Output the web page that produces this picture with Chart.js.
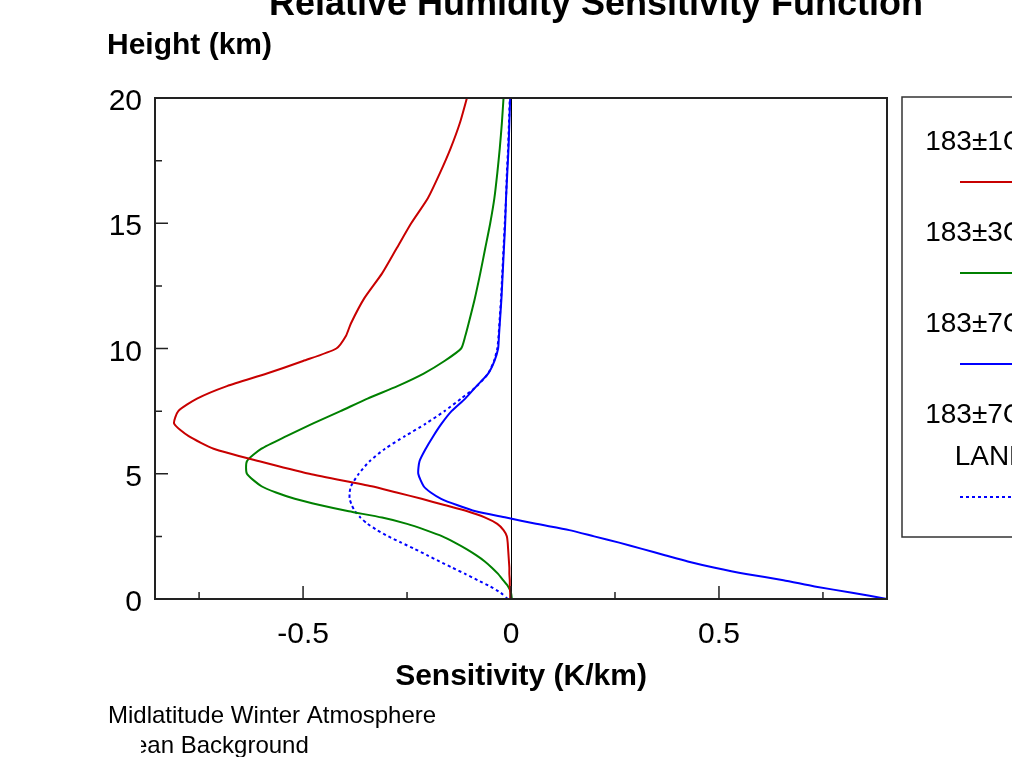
<!DOCTYPE html>
<html>
<head>
<meta charset="utf-8">
<script src="https://cdn.jsdelivr.net/npm/chart.js@4/dist/chart.umd.min.js"></script>
<style>
  body { margin: 0; background: #fff; }
  canvas { display: block; }
</style>
</head>
<body>
<canvas id="rhChart" width="1012" height="757"></canvas>
<script>
//height levels (km) shared by every profile
const heights = [0, 0.25, 0.5, 0.75, 1, 1.25, 1.5, 1.75, 2, 2.25, 2.5, 2.75, 3, 3.25, 3.5, 3.75, 4, 4.25, 4.5,
    5, 5.5, 6, 6.5, 7, 7.5, 8, 8.5, 9, 9.5, 10, 10.5, 11, 12, 13, 14, 15, 16, 17, 18, 19, 20];

//sensitivity (K/km) at each height
const sens1 = [-0.002, -0.002, -0.003, -0.003, -0.004, -0.004, -0.005, -0.006, -0.007, -0.008, -0.010, -0.018, -0.033, -0.062, -0.105, -0.16, -0.215, -0.275, -0.335,
    -0.485, -0.605, -0.715, -0.775, -0.81, -0.80, -0.755, -0.683, -0.587, -0.50, -0.42, -0.397, -0.385, -0.353, -0.31, -0.275, -0.24, -0.20, -0.171, -0.145, -0.123, -0.106];
const sens3 = [0.002, 0.0, -0.007, -0.019, -0.031, -0.046, -0.063, -0.084, -0.108, -0.135, -0.165, -0.205, -0.25, -0.31, -0.39, -0.46, -0.52, -0.565, -0.60,
    -0.635, -0.635, -0.60, -0.54, -0.477, -0.41, -0.345, -0.273, -0.21, -0.16, -0.12, -0.11, -0.102, -0.087, -0.074, -0.062, -0.05, -0.04, -0.033, -0.027, -0.022, -0.018];
const sens7 = [0.904, 0.82, 0.73, 0.655, 0.565, 0.49, 0.425, 0.37, 0.315, 0.26, 0.20, 0.14, 0.06, -0.012, -0.085, -0.13, -0.168, -0.193, -0.21,
    -0.223, -0.22, -0.205, -0.187, -0.167, -0.143, -0.11, -0.083, -0.055, -0.04, -0.031, -0.029, -0.027, -0.023, -0.02, -0.017, -0.014, -0.012, -0.009, -0.006, -0.004, -0.002];
const sens7land = [-0.008, -0.025, -0.05, -0.08, -0.11, -0.141, -0.172, -0.202, -0.232, -0.264, -0.295, -0.322, -0.345, -0.362, -0.375, -0.383, -0.388, -0.388, -0.385,
    -0.366, -0.34, -0.303, -0.255, -0.205, -0.16, -0.12, -0.082, -0.055, -0.041, -0.033, -0.03, -0.028, -0.024, -0.021, -0.018, -0.015, -0.012, -0.01, -0.007, -0.005, -0.003];

const seriesLabels = ['183±1GHz', '183±3GHz', '183±7GHz', '183±7GHz\nLAND'];
const seriesColors = ['#c80000', '#008000', '#0000ff', '#0000ff'];

//axis ticks
const xMajorTicks = [-0.5, 0, 0.5];
const xMinorTicks = [-0.75, -0.25, 0.25, 0.75];
const yMajorTicks = [0, 5, 10, 15, 20];
const yMinorTicks = [2.5, 7.5, 12.5, 17.5];
const xMin = -0.856, xMax = 0.904;

const toPoints = vals => heights.map((h, i) => ({x: vals[i], y: h}));

const FONT = '"Liberation Sans", Arial, sans-serif';

//draws frame, ticks, labels, titles and the boxed legend around the chart area
const framePlugin = {
    id: 'frame',
    beforeDatasetsDraw(chart) {
        const c = chart.ctx, a = chart.chartArea, xs = chart.scales.x;
        c.save();
        c.strokeStyle = '#000';
        c.lineWidth = 1;
        const x0 = Math.round(xs.getPixelForValue(0)) + 0.5;
        c.beginPath(); c.moveTo(x0, a.top); c.lineTo(x0, a.bottom); c.stroke(); //zero line
        c.restore();
    },
    afterDraw(chart) {
        const c = chart.ctx, a = chart.chartArea, xs = chart.scales.x, ys = chart.scales.y;
        c.save();
        //plot frame
        c.strokeStyle = '#222';
        c.lineWidth = 2;
        c.strokeRect(a.left, a.top, a.right - a.left, a.bottom - a.top);

        //inward ticks
        c.lineWidth = 1.5;
        c.beginPath();
        xMajorTicks.forEach(v => { const p = xs.getPixelForValue(v); c.moveTo(p, a.bottom); c.lineTo(p, a.bottom - 13); });
        xMinorTicks.forEach(v => { const p = xs.getPixelForValue(v); c.moveTo(p, a.bottom); c.lineTo(p, a.bottom - 7); });
        yMajorTicks.forEach(v => { const p = ys.getPixelForValue(v); c.moveTo(a.left, p); c.lineTo(a.left + 13, p); });
        yMinorTicks.forEach(v => { const p = ys.getPixelForValue(v); c.moveTo(a.left, p); c.lineTo(a.left + 7, p); });
        c.stroke();

        //tick labels
        c.fillStyle = '#000';
        c.font = '30px ' + FONT;
        c.textBaseline = 'alphabetic';
        c.textAlign = 'center';
        xMajorTicks.forEach(v => c.fillText(String(v), xs.getPixelForValue(v), a.bottom + 44));
        c.textAlign = 'right';
        yMajorTicks.forEach(v => c.fillText(String(v), a.left - 13, ys.getPixelForValue(v) + 12));

        //titles
        c.textAlign = 'center';
        c.font = 'bold 36px ' + FONT;
        c.fillText('Relative Humidity Sensitivity Function', 596, 15);
        c.font = 'bold 30px ' + FONT;
        c.fillText('Sensitivity (K/km)', (a.left + a.right) / 2, 685);
        c.textAlign = 'left';
        c.fillText('Height (km)', 107, 54);

        //notes under the chart
        c.font = '24px ' + FONT;
        c.fillText('Midlatitude Winter Atmosphere', 108, 723);
        c.save();
        c.beginPath(); c.rect(141, 726, 300, 31); c.clip();
        c.fillText('ean Background', 134, 753);
        c.restore();

        //legend box
        c.strokeStyle = '#333';
        c.lineWidth = 1.5;
        c.strokeRect(902, 97, 300, 440);
        c.font = '28px ' + FONT;
        c.textAlign = 'center';
        const cx = 992;
        let y = 150;
        chart.data.datasets.forEach(ds => {
            ds.label.split('\n').forEach((line, i) => {
                if (i > 0) y += 42;
                c.fillStyle = '#000';
                c.fillText(line, cx, y);
            });
            const ly = y + 32;
            c.strokeStyle = ds.borderColor;
            c.lineWidth = 2;
            c.setLineDash(ds.borderDash || []);
            c.beginPath(); c.moveTo(960, ly); c.lineTo(1024, ly); c.stroke();
            c.setLineDash([]);
            y = ly + 59;
        });
        c.restore();
    }
};

const rhChart = new Chart(document.getElementById('rhChart'), {
    type: 'scatter',
    data: {
        datasets: [
            {label: seriesLabels[0], data: toPoints(sens1), borderColor: seriesColors[0]},
            {label: seriesLabels[1], data: toPoints(sens3), borderColor: seriesColors[1]},
            {label: seriesLabels[2], data: toPoints(sens7), borderColor: seriesColors[2]},
            {label: seriesLabels[3], data: toPoints(sens7land), borderColor: seriesColors[3], borderDash: [3, 3]}
        ].map(ds => Object.assign(ds, {showLine: true, borderWidth: 2, pointRadius: 0, tension: 0.2, fill: false}))
    },
    options: {
        responsive: false,
        animation: false,
        devicePixelRatio: 1,
        layout: {padding: {left: 155, right: 125, top: 98, bottom: 158}},
        scales: {
            x: {type: 'linear', min: xMin, max: xMax, display: false},
            y: {type: 'linear', min: 0, max: 20, display: false}
        },
        plugins: {legend: {display: false}, tooltip: {enabled: false}}
    },
    plugins: [framePlugin]
});
</script>
</body>
</html>
